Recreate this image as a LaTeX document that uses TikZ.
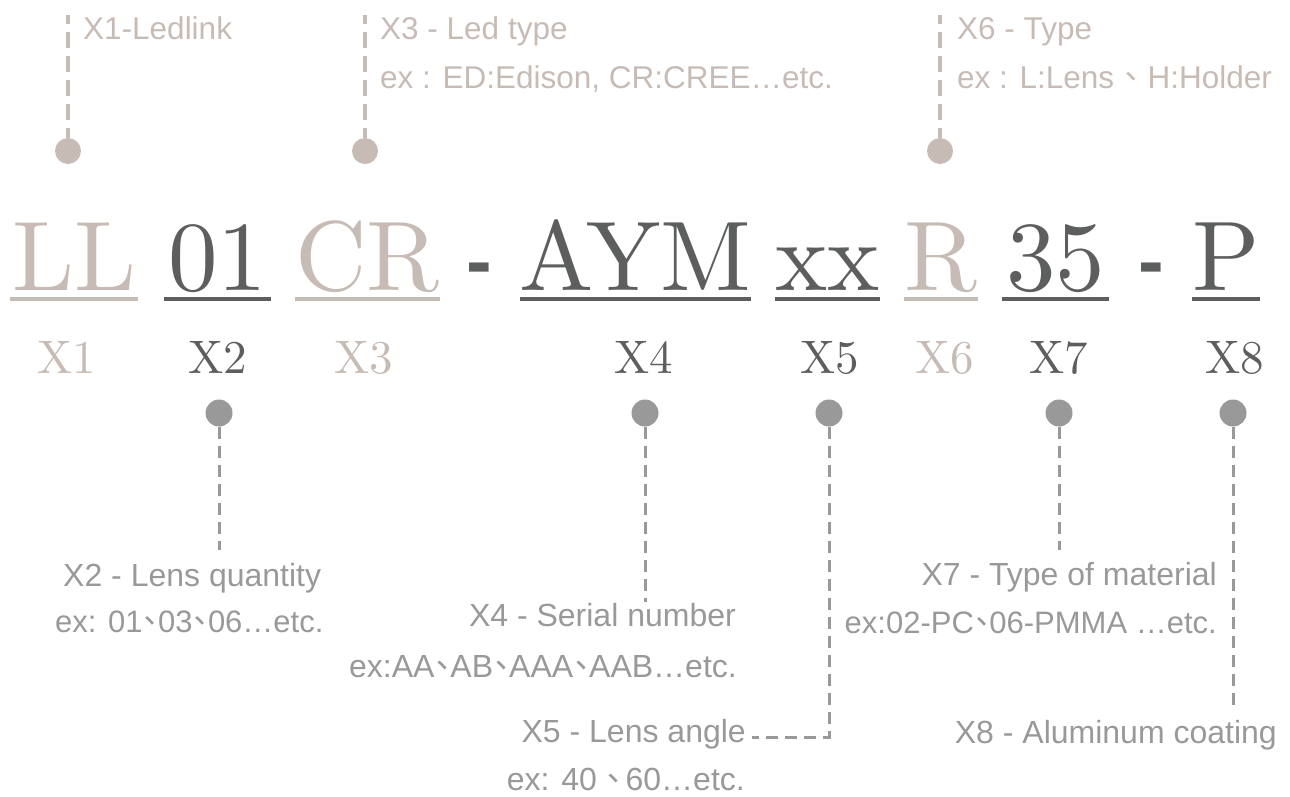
\documentclass[tikz,border=0pt]{standalone}
\usepackage{fontspec}
\newfontfamily\sansf{Liberation Sans}
\newfontfamily\cmten{lmroman10-regular.otf}
\newfontfamily\cjkf{Noto Sans CJK TC}[RawFeature={+halt}]
\definecolor{beige}{HTML}{C7BCB5}
\definecolor{dgray}{HTML}{5D5F5E}
\definecolor{mgray}{HTML}{999999}
\newcommand{\dn}{{\cjkf 、}}
\begin{document}
\begin{tikzpicture}[x=1pt,y=-1pt,
  code/.style={inner sep=0pt, anchor=base, font=\cmten\fontsize{99}{99}\selectfont},
  lab/.style={inner sep=0pt, anchor=base, font=\cmten\fontsize{47}{47}\selectfont},
  hyph/.style={inner sep=0pt, anchor=base, text=dgray, font=\sansf\bfseries\fontsize{77}{77}\selectfont},
  note/.style={inner sep=0pt, anchor=base west, text=beige, font=\sansf\fontsize{31.5}{32}\selectfont},
  bnote/.style={inner sep=0pt, text=mgray, font=\sansf\fontsize{32}{33}\selectfont},
  snote/.style={bnote, font=\sansf\fontsize{31}{32}\selectfont},
  uline/.style={line width=4pt},
  tdash/.style={draw=beige, line width=3.5pt, dash pattern=on 16pt off 8pt, dash phase=7pt},
  bdash/.style={draw=mgray, line width=3pt, dash pattern=on 12pt off 7pt},
  tdot/.style={circle, fill=beige, minimum size=26pt, inner sep=0pt},
  bdot/.style={circle, fill=mgray, minimum size=27pt, inner sep=0pt}]
\useasboundingbox (0,0) rectangle (1290,796);

% code letters
\node[code, text=beige, minimum width=128] (c1) at (74,290) {LL};
\node[code, text=dgray, minimum width=107] (c2) at (217.5,290) {01};
\node[code, text=beige, minimum width=139] (c3) at (367.5,290) {CR};
\node[hyph] (h1) at (479,287.5) {-};
\node[code, text=dgray, minimum width=227] (c4) at (635.5,290) {AYM};
\node[code, text=dgray, minimum width=103] (c5) at (827.5,290) {xx};
\node[code, text=beige, minimum width=70] (c6) at (941,290) {R};
\node[code, text=dgray, minimum width=107] (c7) at (1055.5,290) {35};
\node[hyph] (h2) at (1151.5,287.5) {-};
\node[code, text=dgray, minimum width=64] (c8) at (1226,290) {P};

\foreach \n/\c in {c1/beige,c2/dgray,c3/beige,c4/dgray,c5/dgray,c6/beige,c7/dgray,c8/dgray}
  \draw[uline, \c] (\n.west |- 0,299) -- (\n.east |- 0,299);

% X labels
\node[lab, text=beige] (x1) at (67,373) {X1};
\node[lab, text=dgray] (x2) at (218,373) {X2};
\node[lab, text=beige] (x3) at (364,373) {X3};
\node[lab, text=dgray] (x4) at (644,373) {X4};
\node[lab, text=dgray] (x5) at (830,373) {X5};
\node[lab, text=beige] (x6) at (945,373) {X6};
\node[lab, text=dgray] (x7) at (1059,373) {X7};
\node[lab, text=dgray] (x8) at (1235,373) {X8};

% top dots and leaders
\node[tdot] (t1) at (68,151) {};
\node[tdot] (t3) at (365,151) {};
\node[tdot] (t6) at (940,151) {};
\coordinate (e1) at (68,15);
\coordinate (e3) at (365,15);
\coordinate (e6) at (940,15);
\draw[tdash] (e1) -- (t1.north);
\draw[tdash] (e3) -- (t3.north);
\draw[tdash] (e6) -- (t6.north);

\node[note] (n1) at (83,39) {X1-Ledlink};
\node[note] (n3a) at (380,39) {X3 - Led type};
\node[note] (n3b) at (380,88) {ex : ED:Edison, CR:CREE…etc.};
\node[note] (n6a) at (957,39) {X6 - Type};
\node[note] (n6b) at (957,88) {ex : L:Lens\hspace{0.28em}\dn\hspace{0.28em}H:Holder};

% bottom dots and leaders
\node[bdot] (b2) at (219,413) {};
\node[bdot] (b4) at (645,413) {};
\node[bdot] (b5) at (829,413) {};
\node[bdot] (b7) at (1059,413) {};
\node[bdot] (b8) at (1233,413) {};
\coordinate (f2) at (219,550);
\coordinate (f4) at (645,602);
\coordinate (f5) at (829,737);
\coordinate (f7) at (1059,550);
\coordinate (f8) at (1233,709);

\node[bnote, anchor=base west] (m2a) at (63,586) {X2 - Lens quantity};
\node[snote, anchor=base west] (m2b) at (55,632) {ex: 01\dn 03\dn 06…etc.};
\node[bnote, anchor=base east] (m4a) at (736,626) {X4 - Serial number};
\node[bnote, anchor=base east] (m4b) at (737,677) {ex:AA\dn AB\dn AAA\dn AAB…etc.};
\node[bnote, anchor=base east] (m5a) at (746,742) {X5 - Lens angle};
\node[bnote, anchor=base east] (m5b) at (745,790) {ex: 40 \dn\hspace{0.12em}60…etc.};
\node[bnote, anchor=base east] (m7a) at (1217,585) {X7 - Type of material};
\node[snote, anchor=base east] (m7b) at (1217,633) {ex:02-PC\dn 06-PMMA …etc.};
\node[bnote, anchor=base east] (m8) at (1277,743) {X8 - Aluminum coating};

\draw[bdash] (b2.south) -- (f2);
\draw[bdash] (b4.south) -- (f4);
\draw[bdash] (b5.south) -- (f5) -- ([xshift=6pt]m5a.east |- f5);
\draw[bdash] (b7.south) -- (f7);
\draw[bdash] (b8.south) -- (f8);
\end{tikzpicture}
\end{document}
